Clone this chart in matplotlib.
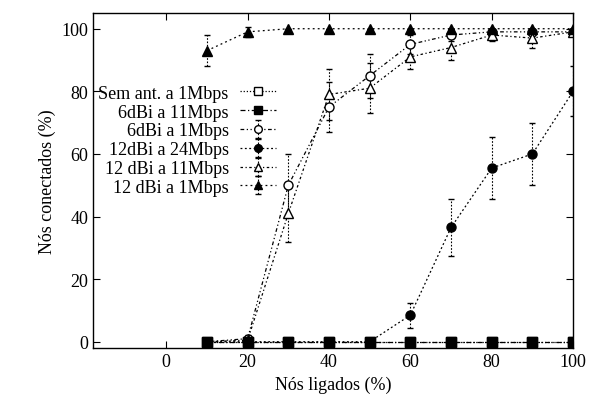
import matplotlib
matplotlib.use("Agg")
import matplotlib.pyplot as plt
import numpy as np

plt.rcParams['font.family'] = ['Liberation Serif', 'DejaVu Serif']
plt.rcParams['font.size'] = 13

# x: percentagem de nos ligados
x = [10, 20, 30, 40, 50, 60, 70, 80, 90, 100]

sem_ant_1 = [0, 0, 0, 0, 0, 0, 0, 0, 0, 0]
dbi6_11 = [0, 0, 0, 0, 0, 0, 0, 0, 0, 0]
dbi6_1 = [0, 1, 50, 75, 85, 95, 98, 99, 99, 99]
dbi6_1_err = [0, 1, 10, 8, 7, 3, 2, 1, 1, 1]
dbi12_24 = [0, 0, 0, 0, 0, 8.5, 36.5, 55.5, 60, 80]
dbi12_24_err = [0, 0, 0, 0, 0, 4, 9, 10, 10, 8]
dbi12_11 = [0, 0.5, 41, 79, 81, 91, 94, 98, 97, 99]
dbi12_11_err = [0, 0.5, 9, 8, 8, 4, 4, 2, 3, 1]
dbi12_1 = [93, 99, 100, 100, 100, 100, 100, 100, 100, 100]
dbi12_1_err = [5, 1.5, 0, 0, 0, 0, 0, 0, 0, 0]

fig = plt.figure(figsize=(5.89, 4.14), dpi=100)
ax = fig.add_axes([0.158, 0.157, 0.815, 0.809])

lw = 0.9
ms = 6.5


def serie(y, err, ls, marker, fill, label, z=2):
    mfc = 'black' if fill else 'white'
    if err is None:
        ax.plot(x, y, color='black', linestyle=ls, linewidth=lw, marker=marker,
                markersize=ms, markerfacecolor=mfc, markeredgecolor='black',
                markeredgewidth=1, label=label, zorder=z)
        return
    cont = ax.errorbar(x, y, yerr=err, color='black', linestyle=ls, linewidth=lw,
                       marker=marker, markersize=ms, markerfacecolor=mfc,
                       markeredgecolor='black', markeredgewidth=1, capsize=2.5,
                       elinewidth=0.8, capthick=0.8, label=label, zorder=z)
    cont[2][0].set_linestyle((0, (1.5, 1.5)))


serie(sem_ant_1, None, (0, (1, 1.5)), 's', False, 'Sem ant. a 1Mbps')
serie(dbi6_11, None, (0, (4, 2, 1, 2)), 's', True, '6dBi a 11Mbps', z=4)
serie(dbi6_1, dbi6_1_err, (0, (3, 2, 1, 2, 1, 2)), 'o', False, '6dBi a 1Mbps')
serie(dbi12_24, dbi12_24_err, (0, (1.5, 2)), 'o', True, '12dBi a 24Mbps')
serie(dbi12_11, dbi12_11_err, (0, (2, 2, 1, 2)), '^', False, '12 dBi a 11Mbps')
serie(dbi12_1, dbi12_1_err, (0, (1.5, 2.5)), '^', True, '12 dBi a 1Mbps')

ax.set_xlim(-18, 100)
ax.set_ylim(-2, 105)
ax.set_xticks([0, 20, 40, 60, 80, 100])
ax.set_yticks([0, 20, 40, 60, 80, 100])
ax.tick_params(direction='in', length=5, top=True, right=True, width=0.8)
for s in ax.spines.values():
    s.set_linewidth(1)

ax.set_xlabel('Nós ligados (%)')
ax.set_ylabel('Nós conectados (%)')

handles, labels = ax.get_legend_handles_labels()
leg = fig.legend(handles, labels, loc='upper right', bbox_to_anchor=(0.468, 0.793),
                 frameon=False, markerfirst=False, borderpad=0, borderaxespad=0,
                 labelspacing=0.1, handlelength=2.0, handletextpad=0.6, numpoints=1,
                 markerscale=0.85)

fig.savefig('out.png', dpi=100)
